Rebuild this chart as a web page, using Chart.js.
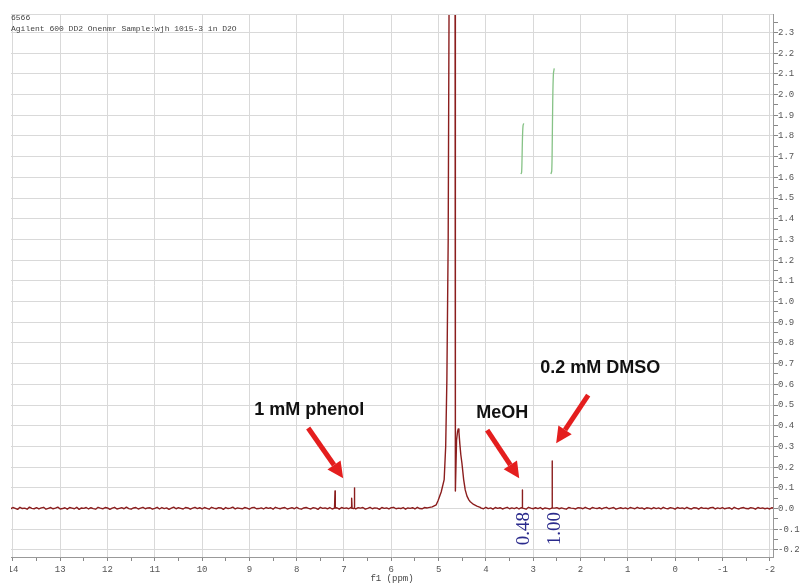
<!DOCTYPE html>
<html>
<head>
<meta charset="utf-8">
<script src="https://cdn.jsdelivr.net/npm/chart.js@4.4.0/dist/chart.umd.min.js"></script>
<style>
  html, body { margin: 0; padding: 0; background: #fff; }
  #frame { position: absolute; left: 10px; top: 0; width: 790px; height: 584px; overflow: hidden; }
  #nmr { position: absolute; left: -10px; top: 0; }
</style>
</head>
<body>
<div id="frame"><canvas id="nmr" width="800" height="584"></canvas></div>
<script>
// ---- 1H spectrum (600 MHz, D2O) ----
const ppmMax = 14.04, ppmMin = -2.07;
const yMin = -0.234, yMax = 2.389;

// baseline noise, one value every 0.05 ppm starting at 14.1 ppm (units of 0.001)
const baseStart = 14.1, baseStep = 0.05;
const baselineMilli = [
  3,-2,5,1,-4,6,0,2,-3,7,1,-1,4,-2,3,6,-3,1,5,-1,
  2,7,-2,0,4,-3,5,2,-1,6,-4,3,1,5,-2,4,0,-3,6,2,
  -1,5,3,-4,2,6,-2,1,4,-1,7,0,-3,3,5,-2,2,6,-1,3,
  4,-3,1,6,-2,5,0,3,-4,2,7,-1,4,1,-2,5,3,-3,2,6,
  0,4,-2,5,1,-3,6,2,-1,4,3,-4,5,0,2,7,-2,3,1,-1,
  5,2,-3,4,6,-1,0,3,-2,5,1,4,-3,6,2,-1,3,5,-2,1,
  4,-1,6,0,-3,3,5,1,-2,4,2,-4,6,1,3,-1,5,-2,2,4,
  -3,5,1,3,-1,6,0,-2,4,2,5,-3,1,6,-1,3,2,-4,5,1,
  3,-2,4,6,-1,2,0,5,-3,3,1,4,-2,6,0,-1,5,2,-3,4,
  1,5,-2,3,6,-1,2,4,-3,5,0,3,-2,6,1,-1,4,2,-3,5,
  2,-1,6,0,3,-3,5,1,4,-2,2,6,-1,3,0,5,-2,4,1,-3,
  6,2,-1,4,0,5,-3,3,1,-2,6,2,4,-1,3,0,-3,5,2,1,
  -2,4,3,-1,6,1,-3,5,2,0,4,-2,3,6,-1,2,5,-3,1,4,
  0,3,-2,5,2,-1,6,1,3,-3,4,2,-1,5,0,3,-2,6,1,-1,
  4,2,-3,5,1,3,-1,6,0,-2,4,3,-3,5,1,2,-1,4,6,-2,
  3,0,5,-1,2,4,-3,6,1,-2,3,5,0,-1,4,2,-3,5,1,3,
  -1,2,-2,4,1
];

// residual HDO signal with its saturated shoulder
const waterShifts = [5.24, 5.135, 5.05, 5.008, 4.945, 4.882, 4.85, 4.825, 4.797, 4.776, 4.72, 4.652,
                     4.645, 4.62, 4.60, 4.585, 4.57, 4.55, 4.53, 4.507, 4.47, 4.437, 4.40, 4.36, 4.33, 4.26, 4.19, 4.12];
const waterValues = [0.003, 0.008, 0.018, 0.04, 0.08, 0.14, 0.30, 0.62, 1.3, 2.6, 9.0, 2.6,
                     0.085, 0.33, 0.37, 0.385, 0.37, 0.31, 0.26, 0.22, 0.14, 0.09, 0.06, 0.042, 0.033, 0.02, 0.012, 0.006];

// sharp analyte lines: phenol (3), MeOH, DMSO
const peakShifts = [7.19, 6.835, 6.78, 3.23, 2.60];
const peakHeights = [0.085, 0.05, 0.10, 0.09, 0.23];

// integrals (MeOH vs DMSO reference)
const integralValues = [0.48, 1.00];
const integralSpans = [[3.26, 3.20], [2.625, 2.555]];
const integralBase = 1.616;
const integralPerUnit = 0.51;
const integralShape = [0, 0.03, 0.3, 0.7, 0.95, 1];
const integralAt = [0, 0.25, 0.4, 0.55, 0.75, 1];

// axis ticks
const xTickValues = [];
for (let v = 14; v >= -2; v -= 0.5) xTickValues.push(v);
const yTickValues = [];
for (let k = -4; k <= 47; k++) yTickValues.push(Math.round(k * 5) / 100);

// text notes with arrows, in (ppm, intensity)
const notes = [
  { text: '1 mM phenol', at: [7.736, 0.476], from: [7.757, 0.389], to: [7.017, 0.147] },
  { text: 'MeOH',        at: [3.655, 0.461], from: [3.973, 0.379], to: [3.296, 0.147] },
  { text: '0.2 mM DMSO', at: [1.584, 0.679], from: [1.837, 0.548], to: [2.514, 0.316] }
];

// ---- build the trace ----
const trace = [];
baselineMilli.forEach((m, i) => {
  const x = +(baseStart - i * baseStep).toFixed(3);
  if (x < 5.3 && x > 4.1) return;
  trace.push({ x, y: m / 1000 });
});
waterShifts.forEach((x, i) => trace.push({ x, y: waterValues[i] }));
peakShifts.forEach((x, i) => {
  trace.push({ x: x + 0.006, y: 0.002 }, { x, y: peakHeights[i] }, { x: x - 0.006, y: 0.002 });
});
trace.sort((a, b) => b.x - a.x);

const integralSets = integralValues.map((val, j) => {
  const [a, b] = integralSpans[j];
  const rise = val * integralPerUnit;
  return {
    data: integralShape.map((f, i) => ({ x: a + (b - a) * integralAt[i], y: integralBase + rise * f })),
    borderColor: '#86c286', borderWidth: 1.3, pointRadius: 0, tension: 0.3, showLine: true
  };
});

const grey = '#d9d9d9';
const tickFont = { family: '"Liberation Mono", monospace', size: 9 };

const decorations = {
  id: 'decorations',
  afterDatasetsDraw(chart) {
    const { ctx, chartArea, scales: { x, y } } = chart;
    ctx.save();
    // top frame line
    ctx.strokeStyle = grey; ctx.lineWidth = 1;
    ctx.beginPath(); ctx.moveTo(chartArea.left, chartArea.top + 0.5); ctx.lineTo(chartArea.right, chartArea.top + 0.5); ctx.stroke();

    // acquisition header
    ctx.fillStyle = '#444';
    ctx.font = '8px "Liberation Mono", monospace';
    ctx.textBaseline = 'middle'; ctx.textAlign = 'left';
    ctx.fillText('6566', 11, 18);
    ctx.fillText('Agilent 600 DD2 Onenmr Sample:wjh 1015-3 in D2O', 11, 29);

    // integral values under the peaks
    ctx.fillStyle = '#2a2a8c';
    ctx.font = '19px "Liberation Serif", serif';
    ctx.textAlign = 'center';
    integralValues.forEach((val, j) => {
      const mid = (integralSpans[j][0] + integralSpans[j][1]) / 2;
      const px = x.getPixelForValue(mid) + 2;
      const py = y.getPixelForValue(0) + 20;
      ctx.save();
      ctx.translate(px, py);
      ctx.rotate(-Math.PI / 2);
      ctx.fillText(val.toFixed(2), 0, 0);
      ctx.restore();
    });

    // notes and arrows
    notes.forEach(n => {
      const x0 = x.getPixelForValue(n.from[0]), y0 = y.getPixelForValue(n.from[1]);
      const x1 = x.getPixelForValue(n.to[0]), y1 = y.getPixelForValue(n.to[1]);
      const ang = Math.atan2(y1 - y0, x1 - x0);
      const head = 16, half = 8;
      const bx = x1 - head * Math.cos(ang), by = y1 - head * Math.sin(ang);
      ctx.strokeStyle = '#e41e1e'; ctx.fillStyle = '#e41e1e';
      ctx.lineWidth = 5; ctx.lineCap = 'butt';
      ctx.beginPath(); ctx.moveTo(x0, y0); ctx.lineTo(bx, by); ctx.stroke();
      ctx.beginPath();
      ctx.moveTo(x1, y1);
      ctx.lineTo(bx + half * Math.sin(ang), by - half * Math.cos(ang));
      ctx.lineTo(bx - half * Math.sin(ang), by + half * Math.cos(ang));
      ctx.closePath(); ctx.fill();

      ctx.fillStyle = '#111';
      ctx.font = 'bold 18px "Liberation Sans", Arial, sans-serif';
      ctx.textAlign = 'center'; ctx.textBaseline = 'middle';
      ctx.fillText(n.text, x.getPixelForValue(n.at[0]), y.getPixelForValue(n.at[1]));
    });
    ctx.restore();
  }
};

new Chart(document.getElementById('nmr'), {
  type: 'line',
  data: {
    datasets: [
      { data: trace, borderColor: '#8b1e1e', borderWidth: 1.4, pointRadius: 0, tension: 0,
        borderJoinStyle: 'round', showLine: true },
      ...integralSets
    ]
  },
  options: {
    responsive: false,
    animation: false,
    layout: { padding: { left: 11, top: 14, right: 0, bottom: 0 } },
    plugins: { legend: { display: false }, tooltip: { enabled: false } },
    scales: {
      x: {
        type: 'linear', reverse: true, min: ppmMin, max: ppmMax,
        afterBuildTicks: s => { s.ticks = xTickValues.map(v => ({ value: v })); },
        afterFit: s => { s.height = 27; },
        ticks: { autoSkip: false, maxRotation: 0, padding: 3, color: '#555', font: tickFont,
                 callback: v => Number.isInteger(v) ? String(v) : '' },
        grid: { color: c => (c.tick && Number.isInteger(c.tick.value)) ? grey : 'rgba(0,0,0,0)',
                tickColor: '#888', tickLength: 4 },
        border: { color: '#999' },
        title: { display: true, text: 'f1 (ppm)', color: '#444', font: tickFont, padding: 0 }
      },
      y: {
        position: 'right', min: yMin, max: yMax,
        afterBuildTicks: s => { s.ticks = yTickValues.map(v => ({ value: v })); },
        afterFit: s => { s.width = 27; },
        ticks: { autoSkip: false, padding: 0, color: '#555', font: tickFont,
                 callback: (v, i) => i % 2 === 0 ? v.toFixed(1) : '' },
        grid: { color: c => (c.index % 2 === 0) ? grey : 'rgba(0,0,0,0)', tickColor: '#888', tickLength: 5 },
        border: { color: '#999' }
      }
    }
  },
  plugins: [decorations]
});
</script>
</body>
</html>
